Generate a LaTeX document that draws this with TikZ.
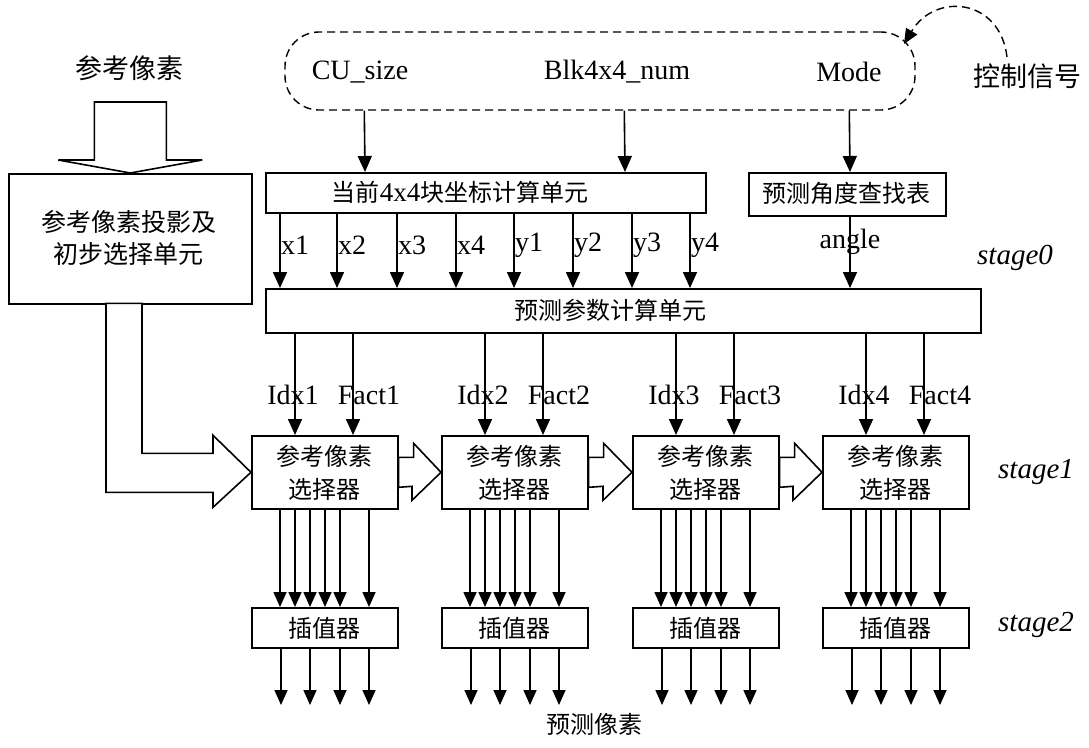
\documentclass[tikz,border=0pt]{standalone}
\usepackage{fontspec}
\setmainfont{Liberation Serif}
\newfontfamily\cjk{Noto Sans CJK SC}
\usetikzlibrary{arrows.meta,calc}
\tikzset{
  box/.style={draw, line width=1.6pt, inner sep=0pt, anchor=north west},
  arr/.style={line width=1.6pt, -{Triangle[width=14pt,length=16pt]}},
  sarr/.style={line width=1.6pt, -{Triangle[width=13pt,length=15pt]}},
  hollow/.style={draw, line width=1.6pt, fill=white, line join=miter},
  lat/.style={font=\fontsize{28}{32}\selectfont, inner sep=0pt},
  zh/.style={font=\fontsize{24}{33}\selectfont\cjk, inner sep=0pt, align=center},
  zhbig/.style={font=\fontsize{27}{32}\selectfont\cjk, inner sep=0pt, align=center},
  stg/.style={font=\fontsize{29}{32}\selectfont\itshape, inner sep=0pt}
}
\begin{document}
\begin{tikzpicture}[x=1pt,y=-1pt]
\useasboundingbox (0,0) rectangle (1089,747);

% control signal box
\node[draw, dashed, dash pattern=on 8pt off 5pt, line width=1.4pt, rounded corners=34pt,
      minimum width=630, minimum height=78, inner sep=0pt] (ctrl) at (600,71) {};
\node[lat] (cusize) at (360,72) {CU\_size};
\node[lat] (blk) at (617,72) {Blk4x4\_num};
\node[lat] (mode) at (849,72) {Mode};
\node[zhbig] (ctrlsig) at (1027,76) {控制信号};
\coordinate (cs) at (1007,57);
\coordinate (ct) at (904,44);
\draw[line width=1.4pt, dash pattern=on 8pt off 5pt, -{Triangle[width=13pt,length=15pt]}]
  (cs) .. controls (1000,-2) and (935,-8) .. (ct);

% left input
\node[zhbig] (refpix) at (129,68) {参考像素};
\node[box, minimum width=243, minimum height=130] (proj) at (8,173) {};
\node[font=\fontsize{25}{32}\selectfont\cjk, inner sep=0pt, align=center] (projt) at (129,238) {参考像素投影及\\初步选择单元};
\draw[hollow] (proj.north) -- ++(-72,-13) -- ++(36,0) -- ++(0,-58) -- ++(72,0)
  -- ++(0,58) -- ++(36,0) -- cycle;

% stage 0 boxes
\node[box, minimum width=440, minimum height=40] (cur) at (265,172) {};
\node[inner sep=0pt] (curt) at (460,192) {{\fontsize{24}{28}\selectfont\cjk 当前}{\fontsize{27}{30}\selectfont 4x4}{\fontsize{24}{28}\selectfont\cjk 块坐标计算单元}};
\node[box, minimum width=197, minimum height=43] (ang) at (748,172) {};
\node[zh] (angt) at (846,193) {预测角度查找表};
\node[box, minimum width=715, minimum height=44] (par) at (265,288) {};
\node[zh] (part) at (610,310) {预测参数计算单元};

\draw[arr] ([xshift=80pt]ctrl.south west) -- ([xshift=100pt]cur.north west);
\draw[arr] ([xshift=340pt]ctrl.south west) -- ([xshift=360pt]cur.north west);
\draw[arr] ([xshift=565pt]ctrl.south west) -- ([xshift=102pt]ang.north west);

\foreach \dx/\lab in {15/x1,72/x2,132/x3,191/x4,249/y1,308/y2,367/y3,425/y4}{
  \draw[arr] ([xshift=\dx pt]cur.south west) -- ([xshift=\dx pt]par.north west);
  \node[lat, anchor=west] (l\lab) at (265+\dx+1,245) {\lab};
}
\node[lat] (angle) at (850,242) {angle};
\draw[arr] ([xshift=102pt]ang.south west) -- ([xshift=585pt]par.north west);
\node[stg] (st0) at (1015,258) {stage0};

% selectors and interpolators
\foreach \i/\l in {1/251,2/441,3/632,4/822}{
  \node[box, minimum width=146, minimum height=73] (s\i) at (\l,435) {};
  \node[zh] (st\i) at (\l+73,473) {参考像素\\选择器};
  \node[box, minimum width=146, minimum height=40] (ip\i) at (\l,607) {};
  \node[zh] (ipt\i) at (\l+73,628) {插值器};
  \draw[arr] ([xshift=\l pt-221pt]par.south west) -- ([xshift=44pt]s\i.north west);
  \draw[arr] ([xshift=\l pt-163pt]par.south west) -- ([xshift=102pt]s\i.north west);
  \node[lat] (idx\i) at (\l+42,395) {Idx\i};
  \node[lat] (fact\i) at (\l+118,395) {Fact\i};
  \foreach \dx in {29,44,59,74,89,118}{
    \draw[sarr] ([xshift=\dx pt]s\i.south west) -- ([xshift=\dx pt]ip\i.north west);
  }
  \foreach \dx in {30,59,89,118}{
    \coordinate (o\i-\dx) at (\l+\dx,705);
    \draw[sarr] ([xshift=\dx pt]ip\i.south west) -- (o\i-\dx);
  }
}
\foreach \a/\b in {1/2,2/3,3/4}{
  \draw[hollow] ([yshift=15pt]s\a.east) -- ++(15,0) -- ++(0,-14) -- (s\b.west)
    -- ++(-29,28) -- ++(0,-14) -- ([yshift=-15pt]s\a.east) -- cycle;
}
% bent hollow arrow from projection unit
\draw[hollow] (s1.west) -- ++(-38,35) -- ++(0,-15) -- ++(-107,0) -- ++(0,-189)
  -- ++(36,0) -- ++(0,150) -- ++(71,0) -- ++(0,-18) -- cycle;

\node[stg] (st1) at (1036,472) {stage1};
\node[stg] (st2) at (1036,625) {stage2};
\node[zh] (outt) at (594,724) {预测像素};
\end{tikzpicture}
\end{document}
